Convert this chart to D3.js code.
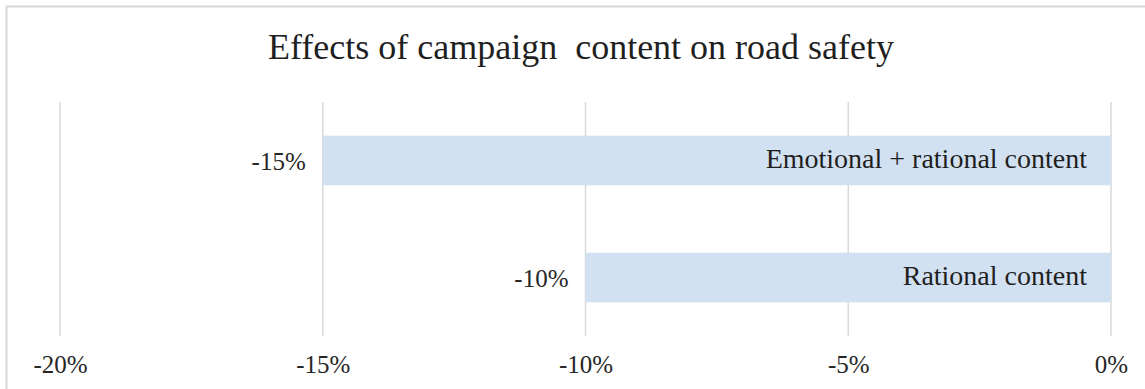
<!DOCTYPE html>
<html>
<head>
<meta charset="utf-8">
<script src="https://cdn.jsdelivr.net/npm/d3@7"></script>
<style>
  html, body { margin: 0; padding: 0; background: #ffffff; }
  svg { display: block; font-family: "Liberation Serif", "Times New Roman", serif; }
</style>
</head>
<body>
<svg id="chart" width="1145" height="389"></svg>
<script>
// Chart data
const categories = ["Emotional + rational content", "Rational content"];
const effects = [-0.15, -0.10];
const tickValues = [-0.20, -0.15, -0.10, -0.05, 0];
const titleText = "Effects of campaign  content on road safety";

const width = 1145, height = 389;
const plot = { left: 60, right: 1111, top: 102, bottom: 336 };

const svg = d3.select("#chart");

// Chart frame
svg.append("rect")
  .attr("x", 6.5).attr("y", 6.5)
  .attr("width", width + 20).attr("height", height + 20)
  .attr("fill", "#ffffff")
  .attr("stroke", "#d9d9d9")
  .attr("stroke-width", 2);

const x = d3.scaleLinear()
  .domain([-0.20, 0])
  .range([plot.left, plot.right]);

const y = d3.scaleBand()
  .domain(categories)
  .range([plot.top, plot.bottom])
  .paddingInner(0.576)
  .paddingOuter(0.288);

// Percent format with a plain hyphen as the minus sign
const pct = d3.formatLocale({
  decimal: ".", thousands: ",", grouping: [3], currency: ["", ""], minus: "-"
}).format(".0%");

// Title
svg.append("text")
  .attr("x", 581)
  .attr("y", 59)
  .attr("text-anchor", "middle")
  .attr("font-size", 36)
  .attr("fill", "#1f1f1f")
  .attr("xml:space", "preserve")
  .style("white-space", "pre")
  .text(titleText);

// Vertical gridlines
svg.append("g")
  .selectAll("line")
  .data(tickValues)
  .join("line")
  .attr("x1", d => x(d)).attr("x2", d => x(d))
  .attr("y1", plot.top).attr("y2", plot.bottom)
  .attr("stroke", "#d9d9d9")
  .attr("stroke-width", 1.5);

// Bottom axis labels
const axis = d3.axisBottom(x)
  .tickValues(tickValues)
  .tickFormat(pct)
  .tickSize(0)
  .tickPadding(0);

const axisG = svg.append("g")
  .attr("transform", `translate(0,${plot.bottom})`)
  .call(axis);
axisG.select(".domain").remove();
axisG.selectAll("text")
  .attr("font-family", "Liberation Serif, Times New Roman, serif")
  .attr("font-size", 25)
  .attr("fill", "#262626")
  .attr("dy", null)
  .attr("y", 37);

// Bars
const rows = categories.map((c, i) => ({ category: c, value: effects[i] }));

svg.append("g")
  .selectAll("rect")
  .data(rows)
  .join("rect")
  .attr("x", d => x(d.value))
  .attr("width", d => x(0) - x(d.value))
  .attr("y", d => y(d.category))
  .attr("height", y.bandwidth())
  .attr("fill", "#d2e1f1");

// Category names inside the bars
svg.append("g")
  .selectAll("text")
  .data(rows)
  .join("text")
  .attr("x", x(0) - 24)
  .attr("y", d => y(d.category) + y.bandwidth() / 2 + 7)
  .attr("text-anchor", "end")
  .attr("font-size", 28)
  .attr("fill", "#1f1f1f")
  .text(d => d.category);

// Value labels left of the bars
svg.append("g")
  .selectAll("text")
  .data(rows)
  .join("text")
  .attr("x", d => x(d.value) - 17)
  .attr("y", d => y(d.category) + y.bandwidth() / 2 + 9.5)
  .attr("text-anchor", "end")
  .attr("font-size", 25)
  .attr("fill", "#262626")
  .text(d => pct(d.value));
</script>
</body>
</html>
